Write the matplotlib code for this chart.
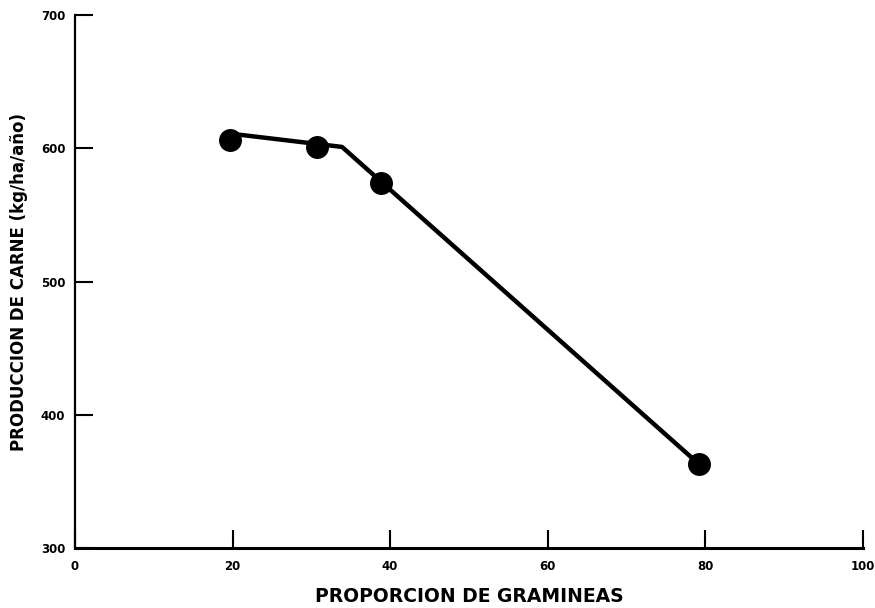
import matplotlib
matplotlib.use("Agg")
import matplotlib.pyplot as plt

# observed data points
prop_gram = [19.7, 30.7, 38.9, 79.2]
prod_carne = [606, 601, 574, 363]

# fitted broken-line
fit_x = [19.7, 33.9, 79.2]
fit_y = [611, 601, 363]

xticks = [0, 20, 40, 60, 80, 100]
yticks = [300, 400, 500, 600, 700]

plt.rcParams['font.family'] = ['DejaVu Sans']

fig = plt.figure(figsize=(8.75, 6.08), dpi=100)
ax = fig.add_axes([0.0857, 0.0987, 0.9003, 0.8766])

ax.plot(fit_x, fit_y, color='black', lw=3.2, solid_capstyle='round', zorder=2)
ax.plot(prop_gram, prod_carne, 'o', color='black', markersize=15.5, zorder=3)

ax.set_xlim(0, 100)
ax.set_ylim(300, 700)
ax.set_xticks(xticks)
ax.set_yticks(yticks)
ax.set_xticklabels([str(t) for t in xticks], fontsize=8.5, fontweight='bold')
ax.set_yticklabels([str(t) for t in yticks], fontsize=8.5, fontweight='bold')
ax.tick_params(direction='in', length=13, width=1.5)
ax.tick_params(axis='x', pad=9)
ax.tick_params(axis='y', pad=7)

for s in ['top', 'right']:
    ax.spines[s].set_visible(False)
ax.spines['left'].set_linewidth(1.6)
ax.spines['bottom'].set_linewidth(2.2)

ax.set_xlabel('PROPORCION DE GRAMINEAS', fontsize=13.5, fontweight='bold', labelpad=10)
ax.set_ylabel('PRODUCCION DE CARNE (kg/ha/año)', fontsize=12, fontweight='bold', labelpad=9)

fig.savefig('out.png', dpi=100)
